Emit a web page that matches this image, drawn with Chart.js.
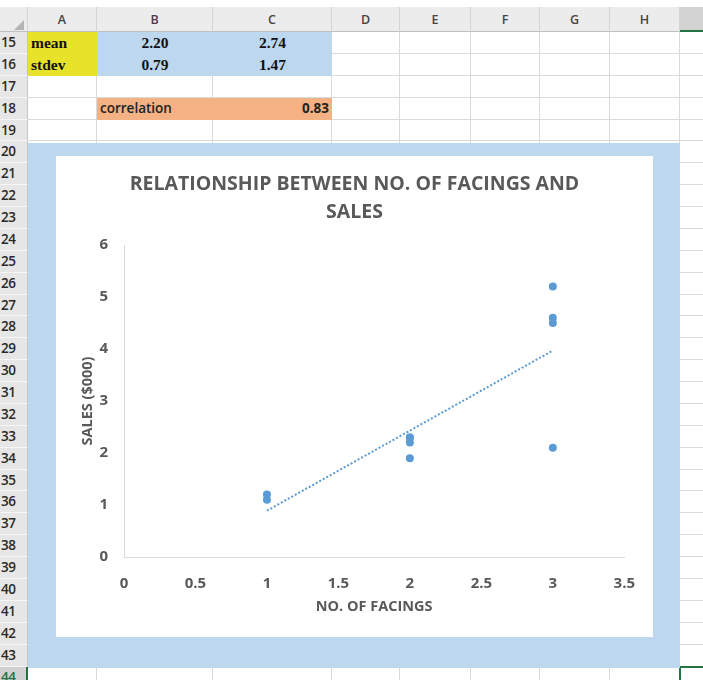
<!DOCTYPE html>
<html>
<head>
<meta charset="utf-8">
<script src="https://cdn.jsdelivr.net/npm/chart.js@4.4.1/dist/chart.umd.min.js"></script>
<style>
    body { margin: 0; width: 703px; height: 680px; overflow: hidden; background: #fff; position: relative; font-family: "Open Sans", sans-serif; }
    .c { position: absolute; box-sizing: border-box; }
    .hdr { background: #ececec; color: #444; font-size: 12.5px; font-weight: 600; text-align: center; line-height: 25px; border-right: 1px solid #d4d4d4; border-bottom: 1px solid #c0c0c0; }
    .rowno { background: #e6e6e6; color: #2a2a2a; font-size: 13.5px; font-weight: 600; padding-left: 1px; border-bottom: 1px solid #f6f6f6; border-right: 1px solid #c6c6c6; letter-spacing: -0.5px; }
    .cell { border-right: 1px solid #dadada; border-bottom: 1px solid #dadada; }
    .serif { font-family: "Liberation Serif", serif; font-weight: bold; font-size: 15.5px; color: #111; }
    .sans { font-family: "Open Sans", sans-serif; font-size: 13.5px; font-weight: 600; color: #222; }
    #frame { position: absolute; left: 28px; top: 143px; width: 652px; height: 525px; background: #bdd7ee; }
    #chartBox { position: absolute; left: 56px; top: 156px; width: 597px; height: 481px; background: #fff; }
</style>
</head>
<body>
<div id="sheet"></div>
<div id="frame"></div>
<div id="chartBox"><canvas id="ScatterChart" width="597" height="481"></canvas></div>
<script>
// summary block
var statLabels = ['mean', 'stdev'];
var statFacings = ['2.20', '0.79'];
var statSales = ['2.74', '1.47'];
var correlationLabel = 'correlation';
var correlationValue = '0.83';

// scatter data
var facings = [1, 1, 2, 2, 2, 2, 3, 3, 3, 3];
var sales = [1.2, 1.1, 2.3, 2.3, 2.2, 1.9, 5.2, 4.6, 4.5, 2.1];

// linear trendline end points
var trendFacings = [1, 3];
var trendSales = [0.89, 3.97];

var xTickLabels = ['0', '0.5', '1', '1.5', '2', '2.5', '3', '3.5'];
var yTickLabels = ['0', '1', '2', '3', '4', '5', '6'];

//worksheet grid
drawSheet();
function drawSheet() {
    var sheet = document.getElementById('sheet');
    var colEdges = [0, 28, 97, 213, 332, 400, 471, 540, 610, 680, 760];
    var colNames = ['', 'A', 'B', 'C', 'D', 'E', 'F', 'G', 'H', ''];
    var firstRow = 15, lastRow = 44;
    var headTop = 7, headBottom = 32, rowH = 21.88;

    function box(cls, x, y, w, h, text, style) {
        var d = document.createElement('div');
        d.className = 'c ' + cls;
        d.style.left = x + 'px';
        d.style.top = y + 'px';
        d.style.width = w + 'px';
        d.style.height = h + 'px';
        if (style) d.style.cssText += style;
        if (text) d.textContent = text;
        sheet.appendChild(d);
        return d;
    }

    // column header
    for (var c = 0; c < colNames.length; c++) {
        var st = '';
        if (c === 9) st = 'background:#d2d2d2;border-bottom:2px solid #217346;';
        box('hdr', colEdges[c], headTop, colEdges[c + 1] - colEdges[c], headBottom - headTop, colNames[c], st);
    }
    // corner triangle
    box('', 14, 20, 0, 0, '', 'border-left:10px solid transparent;border-bottom:10px solid #b4b4b4;');

    // rows
    for (var r = firstRow; r <= lastRow; r++) {
        var y = headBottom + (r - firstRow) * rowH;
        var st2 = r === lastRow ? 'background:#d2d2d2;color:#217346;border-right:2px solid #217346;' : '';
        box('rowno', 0, y, 28, rowH, String(r), 'line-height:' + rowH + 'px;' + st2);
        for (var c2 = 1; c2 < colNames.length; c2++) {
            box('cell', colEdges[c2], y, colEdges[c2 + 1] - colEdges[c2], rowH);
        }
    }

    // filled cells
    var y15 = headBottom, y18 = headBottom + 3 * rowH;
    box('', 28, y15, 69, 2 * rowH, '', 'background:#e8e22a;');
    box('', 97, y15, 235, 2 * rowH, '', 'background:#bdd7ee;');
    box('', 97, y18, 235, rowH, '', 'background:#f4b183;');

    for (var i = 0; i < statLabels.length; i++) {
        var ty = y15 + i * rowH;
        var lh = 'line-height:' + rowH + 'px;';
        box('serif', 31, ty, 66, rowH, statLabels[i], lh);
        box('serif', 97, ty, 116, rowH, statFacings[i], lh + 'text-align:center;');
        box('serif', 213, ty, 119, rowH, statSales[i], lh + 'text-align:center;');
    }
    box('sans', 100, y18, 110, rowH, correlationLabel, 'line-height:' + rowH + 'px;');
    box('sans', 213, y18, 116, rowH, correlationValue, 'line-height:' + rowH + 'px;font-weight:bold;text-align:right;');

    // active cell
    box('', 679, headBottom + (lastRow - firstRow) * rowH - 1, 40, 30, '', 'border:2px solid #217346;');
}

//scatter chart
drawScatterChart();
function drawScatterChart() {
    var ctx = document.getElementById('ScatterChart');
    var labelColor = '#595959';
    var axisColor = '#d9d9d9';
    var pointColor = '#5b9bd5';
    var tickFont = { family: 'Open Sans', size: 15, weight: 'bold' };
    var axisTitleFont = { family: 'Open Sans', size: 14.5, weight: 'bold' };

    var points = facings.map(function (f, i) { return { x: f, y: sales[i] }; });
    var trend = trendFacings.map(function (f, i) { return { x: f, y: trendSales[i] }; });

    var config = {
        type: 'scatter',
        data: {
            datasets: [{
                label: 'Sales',
                data: points,
                backgroundColor: pointColor,
                borderColor: pointColor,
                borderWidth: 0,
                pointRadius: 4,
                pointHoverRadius: 4,
                order: 1
            }, {
                type: 'line',
                label: 'Linear (Sales)',
                data: trend,
                borderColor: pointColor,
                borderWidth: 2,
                borderDash: [2, 2],
                pointRadius: 0,
                fill: false,
                order: 2
            }]
        },
        options: {
            responsive: false,
            animation: false,
            layout: { padding: { left: 28, right: 28, top: 0, bottom: 0 } },
            plugins: {
                legend: { display: false },
                tooltip: { enabled: false },
                title: {
                    display: true,
                    text: ['RELATIONSHIP BETWEEN NO. OF FACINGS AND', 'SALES'],
                    color: labelColor,
                    font: { family: 'Open Sans', size: 19.5, weight: 'bold', lineHeight: 28 / 19.5 },
                    padding: { top: 14, bottom: 19 }
                }
            },
            scales: {
                x: {
                    type: 'linear',
                    min: 0,
                    max: 3.5,
                    grid: { display: false, drawTicks: false },
                    border: { display: true, color: axisColor, width: 1 },
                    ticks: {
                        stepSize: 0.5,
                        color: labelColor,
                        font: tickFont,
                        padding: 18,
                        callback: function (v, i) { return xTickLabels[i]; }
                    },
                    title: {
                        display: true,
                        text: 'NO. OF FACINGS',
                        color: labelColor,
                        font: axisTitleFont,
                        padding: { top: 0, bottom: 21 }
                    },
                    afterFit: function (scale) { scale.height = 80; }
                },
                y: {
                    min: 0,
                    max: 6,
                    grid: { display: false, drawTicks: false },
                    border: { display: true, color: axisColor, width: 1 },
                    ticks: {
                        stepSize: 1,
                        color: labelColor,
                        font: tickFont,
                        padding: 16,
                        callback: function (v, i) { return yTickLabels[i]; }
                    },
                    title: {
                        display: true,
                        text: 'SALES ($000)',
                        color: labelColor,
                        font: axisTitleFont,
                        padding: { top: -5, bottom: 0 }
                    },
                    afterFit: function (scale) { scale.width = 40; }
                }
            }
        }
    };

    var myChart = new Chart(ctx, config);
}
</script>
</body>
</html>
